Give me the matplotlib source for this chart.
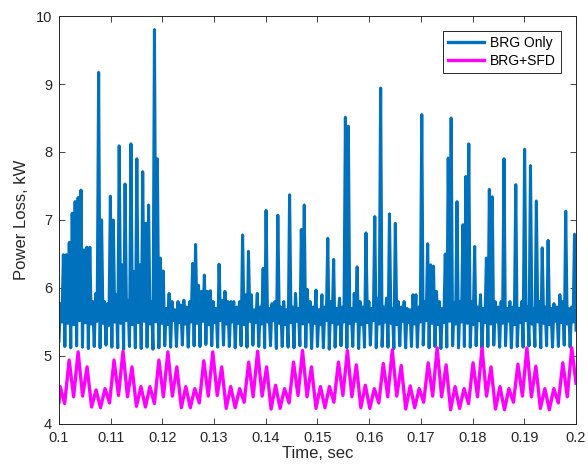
import matplotlib
matplotlib.use('Agg')
import matplotlib.pyplot as plt
import numpy as np

plt.rcParams['font.family'] = ['Liberation Sans', 'DejaVu Sans']

# BRG Only: per cycle -> deep trough, peak A, shallow trough, peak B
blue_peaks = [
    5.77, 6.49, 6.49, 6.67, 7.10, 7.27, 7.33, 7.44, 6.56, 6.60,
    6.60, 5.80, 5.92, 9.17, 7.00, 5.80, 5.77, 7.35, 7.00, 5.90,
    8.09, 6.34, 7.53, 5.82, 8.12, 6.24, 7.90, 6.34, 7.71, 6.95,
    7.22, 5.80, 9.80, 7.90, 6.44, 6.25, 5.70, 5.92, 5.80, 5.68,
    5.80, 5.75, 5.82, 5.72, 5.80, 6.36, 6.64, 6.04, 5.95, 6.19,
    5.95, 5.96, 5.80, 5.70, 6.35, 5.82, 5.95, 5.80, 5.80, 5.80,
    5.72, 5.80, 6.78, 5.90, 6.54, 5.90, 5.68, 5.92, 5.72, 6.29,
    7.14, 5.70, 5.77, 5.80, 7.07, 5.72, 5.80, 5.68, 7.37, 5.72,
    5.92, 5.70, 6.86, 7.22, 5.98, 5.80, 5.72, 5.97, 5.68, 5.90,
    5.72, 6.73, 5.80, 6.42, 5.70, 5.85, 5.72, 8.51, 8.38, 5.70,
    5.92, 6.31, 5.80, 5.72, 6.81, 5.80, 5.70, 7.05, 5.85, 8.94,
    5.72, 5.85, 7.09, 5.70, 6.95, 5.80, 5.72, 5.80, 5.70, 5.68,
    5.90, 5.90, 5.72, 8.55, 5.80, 6.65, 6.34, 6.32, 5.95, 5.80,
    5.70, 6.50, 7.91, 8.50, 5.78, 7.27, 5.80, 6.93, 7.64, 8.12,
    5.80, 6.61, 5.72, 5.90, 5.70, 6.44, 7.45, 7.34, 5.80, 5.72,
    5.80, 7.90, 5.70, 5.80, 5.72, 7.52, 5.70, 5.80, 8.04, 5.72,
    7.80, 5.70, 7.28, 5.80, 6.59, 5.72, 6.70, 5.70, 5.77, 5.72,
    5.90, 5.80, 7.13, 5.70, 5.72, 6.79,
]
blue_deep = [
    5.22, 5.14, 5.12, 5.15, 5.13, 5.11, 5.14, 5.12, 5.16, 5.13,
    5.12, 5.10, 5.14, 5.12, 5.11, 5.13, 5.10, 5.12, 5.15, 5.13,
    5.14, 5.16, 5.13, 5.15, 5.14, 5.17, 5.15, 5.13, 5.16, 5.14,
    5.12, 5.15, 5.13, 5.16, 5.14, 5.12, 5.15, 5.11, 5.14, 5.13,
    5.12, 5.15, 5.13, 5.11, 5.14, 5.12, 5.10, 5.13, 5.15, 5.12,
    5.14, 5.11, 5.13, 5.16, 5.12, 5.14, 5.13, 5.11, 5.15, 5.12,
    5.14, 5.13, 5.16, 5.12, 5.14, 5.11, 5.13, 5.15, 5.12, 5.14,
    5.13, 5.15, 5.12, 5.14, 5.16, 5.13, 5.15, 5.12, 5.14, 5.13,
    5.15, 5.14, 5.12, 5.15, 5.13, 5.14, 5.16, 5.13, 5.38,
]
blue_shallow = [
    5.50, 5.48, 5.46, 5.52, 5.49, 5.47, 5.51, 5.48, 5.45, 5.50,
    5.48, 5.52, 5.46, 5.49, 5.51, 5.47, 5.50, 5.48, 5.46, 5.52,
    5.49, 5.47, 5.50, 5.48, 5.51, 5.46, 5.49, 5.52, 5.47, 5.50,
    5.48, 5.46, 5.51, 5.49, 5.47, 5.50, 5.52, 5.48, 5.46, 5.49,
    5.51, 5.47, 5.50, 5.48, 5.46, 5.52, 5.49, 5.47, 5.50, 5.48,
    5.51, 5.46, 5.49, 5.52, 5.47, 5.50, 5.48, 5.46, 5.51, 5.49,
    5.47, 5.50, 5.52, 5.48, 5.46, 5.49, 5.51, 5.47, 5.50, 5.48,
    5.46, 5.52, 5.49, 5.47, 5.50, 5.48, 5.51, 5.46, 5.49, 5.52,
    5.47, 5.50, 5.48, 5.46, 5.51, 5.49, 5.47, 5.50,
]

# BRG+SFD: start value, alternating peaks / troughs, end value
sfd_start, sfd_end = 4.32, 4.60
sfd_peaks = [
    4.55, 4.94, 5.06, 4.84, 4.50,
    4.52, 4.94, 5.07, 4.84, 4.55,
    4.55, 4.94, 5.06, 4.84, 4.55,
    4.52, 4.93, 5.06, 4.84, 4.55,
    4.52, 4.91, 5.07, 4.84, 4.57,
    4.52, 4.91, 5.08, 4.84, 4.55,
    4.55, 4.91, 5.08, 4.87, 4.57,
    4.52, 4.89, 5.09, 4.86, 4.56,
    4.52, 4.90, 5.12, 4.87, 4.55,
    4.52, 4.90, 5.12, 4.84, 4.55,
    4.52, 4.88, 5.12, 4.85, 4.52,
    4.52, 4.90, 5.12,
]
sfd_troughs = [
    4.30, 4.40, 4.41, 4.25, 4.24,
    4.31, 4.42, 4.40, 4.26, 4.25,
    4.30, 4.40, 4.41, 4.24, 4.24,
    4.31, 4.41, 4.42, 4.23, 4.24,
    4.32, 4.40, 4.41, 4.22, 4.23,
    4.31, 4.42, 4.40, 4.23, 4.24,
    4.32, 4.42, 4.40, 4.24, 4.23,
    4.31, 4.40, 4.41, 4.22, 4.24,
    4.32, 4.41, 4.40, 4.21, 4.23,
    4.30, 4.40, 4.41, 4.22, 4.21,
    4.32, 4.41, 4.40, 4.23, 4.21,
    4.31, 4.40,
]

# assemble BRG Only series
n_cyc = len(blue_shallow)
blue_y = []
for k in range(n_cyc):
    blue_y += [blue_deep[k], blue_peaks[2 * k], blue_shallow[k], blue_peaks[2 * k + 1]]
blue_y.append(blue_deep[n_cyc])
blue_t = np.linspace(0.1, 0.2, len(blue_y))

# assemble BRG+SFD series
half = 0.000868
sfd_y = [sfd_start]
sfd_t = [0.1]
for j, p in enumerate(sfd_peaks):
    sfd_t.append(0.10023 + 2 * half * j)
    sfd_y.append(p)
    if j < len(sfd_troughs):
        sfd_t.append(0.10023 + 2 * half * j + half)
        sfd_y.append(sfd_troughs[j])
sfd_t.append(0.2)
sfd_y.append(sfd_end)

fig = plt.figure(figsize=(5.88, 4.72), dpi=100)
ax = fig.add_axes([0.1003, 0.1017, 0.8793, 0.8644])
ax.plot(blue_t, blue_y, color='#0072BD', lw=2.2, solid_joinstyle='round',
        label='BRG Only')
ax.plot(sfd_t, sfd_y, color='#FF00FF', lw=2.4, solid_joinstyle='round',
        label='BRG+SFD')

ax.set_xlim(0.1, 0.2)
ax.set_ylim(4, 10)
xt = [0.1, 0.11, 0.12, 0.13, 0.14, 0.15, 0.16, 0.17, 0.18, 0.19, 0.2]
ax.set_xticks(xt)
ax.set_xticklabels(['0.1', '0.11', '0.12', '0.13', '0.14', '0.15', '0.16',
                    '0.17', '0.18', '0.19', '0.2'])
ax.set_yticks([4, 5, 6, 7, 8, 9, 10])
ax.tick_params(direction='in', top=True, right=True, length=4, width=0.6,
               colors='#262626', labelsize=10.5, pad=5)
for s in ax.spines.values():
    s.set_color('#262626')
    s.set_linewidth(0.7)
ax.set_xlabel('Time, sec', fontsize=12, color='#262626', labelpad=1)
ax.set_ylabel('Power Loss, kW', fontsize=12, color='#262626', labelpad=5)

leg = ax.legend(loc='upper right', fontsize=10, fancybox=False, framealpha=1,
                edgecolor='#262626', handlelength=2.6, borderaxespad=1.1,
                borderpad=0.35, labelspacing=0.3, handletextpad=0.4)
leg.get_frame().set_linewidth(0.7)
for line in leg.get_lines():
    line.set_linewidth(2.4)

fig.savefig('out.png', dpi=100)
